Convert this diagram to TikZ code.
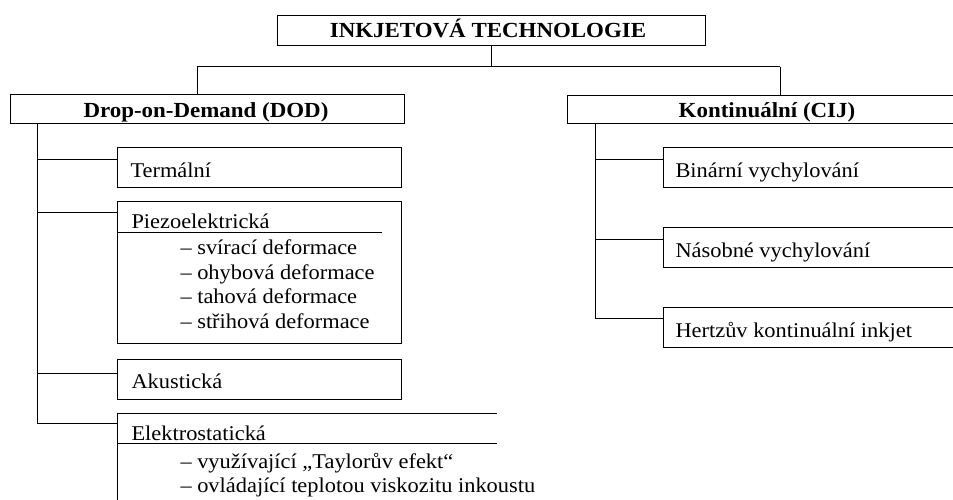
\documentclass[tikz,border=0pt]{standalone}
\usepackage{fontspec}
\setmainfont{Liberation Serif}[FakeStretch=1.067]
\begin{document}
\begin{tikzpicture}[x=1pt,y=-1pt,line width=1pt,
  box/.style={draw,rectangle,inner sep=0pt,anchor=north west},
  lbl/.style={font=\fontsize{21}{24}\selectfont,anchor=base west,inner sep=0pt},
  blbl/.style={font=\fontsize{21.5}{24}\selectfont\bfseries,anchor=base,inner sep=0pt}]
\useasboundingbox (0,0) rectangle (953,500);
\clip (0,0) rectangle (953,500);
% boxes
\node[box,minimum width=428pt,minimum height=30pt] (top) at (277,15) {};
\node[box,minimum width=394pt,minimum height=29pt] (dod) at (10,94) {};
\node[box,minimum width=400pt,minimum height=28pt] (cij) at (567,95) {};
\node[box,minimum width=284pt,minimum height=40pt] (term) at (117,147) {};
\node[box,minimum width=284pt,minimum height=142pt] (piezo) at (117,201) {};
\node[box,minimum width=284pt,minimum height=40pt] (aku) at (117,359) {};
\coordinate (ele) at (117,413);
\draw (ele) ++(380,0) -- (ele) -- ++(0,100);
\draw (117,443) coordinate (eleul) -- ++(380,0);
\draw (piezo.north west) ++(0,31) coordinate (pzul) -- ++(265,0);
\node[box,minimum width=300pt,minimum height=40pt] (bin) at (663,147) {};
\node[box,minimum width=300pt,minimum height=40pt] (nas) at (663,227) {};
\node[box,minimum width=300pt,minimum height=40pt] (her) at (663,307) {};
% texts
\node[blbl] (ttop) at (488,38) {INKJETOVÁ TECHNOLOGIE};
\node[blbl] (tdod) at (206,118) {Drop-on-Demand (DOD)};
\node[blbl] (tcij) at (767,118) {Kontinuální (CIJ)};
\node[lbl] (tterm) at (130,177) {Termální};
\node[lbl] (tpiezo) at (131,228) {Piezoelektrická};
\node[lbl] (tp1) at (180,254) {– svírací deformace};
\node[lbl] (tp2) at (180,279) {– ohybová deformace};
\node[lbl] (tp3) at (180,303) {– tahová deformace};
\node[lbl] (tp4) at (180,328) {– střihová deformace};
\node[lbl] (taku) at (131,388) {Akustická};
\node[lbl] (tele) at (131,440) {Elektrostatická};
\node[lbl] (te1) at (180,468) {– využívající „Taylorův efekt“};
\node[lbl] (te2) at (180,492) {– ovládající teplotou viskozitu inkoustu};
\node[lbl] (tbin) at (675,177) {Binární vychylování};
\node[lbl] (tnas) at (675,257) {Násobné vychylování};
\node[lbl] (ther) at (675,337) {Hertzův kontinuální inkjet};
% connectors
\coordinate (jL) at (197,67);
\coordinate (jR) at (780,67);
\draw (top.south) -- (top.south |- jL);
\draw (jL) -- (jR);
\draw (jL) -- (jL |- dod.north);
\draw (jR) -- (jR |- cij.north);
% DOD spine
\coordinate (sd) at (37,123);
\draw (sd) -- (37,423);
\draw (37,160) -- (term.north west |- 37,160);
\draw (37,212) -- (piezo.north west |- 37,212);
\draw (37,373) -- (aku.north west |- 37,373);
\draw (37,423) -- (ele |- 37,423);
% CIJ spine
\coordinate (sc) at (595,123);
\draw (sc) -- (595,318);
\draw (595,160) -- (bin.north west |- 595,160);
\draw (595,239) -- (nas.north west |- 595,239);
\draw (595,318) -- (her.north west |- 595,318);
\end{tikzpicture}
\end{document}
